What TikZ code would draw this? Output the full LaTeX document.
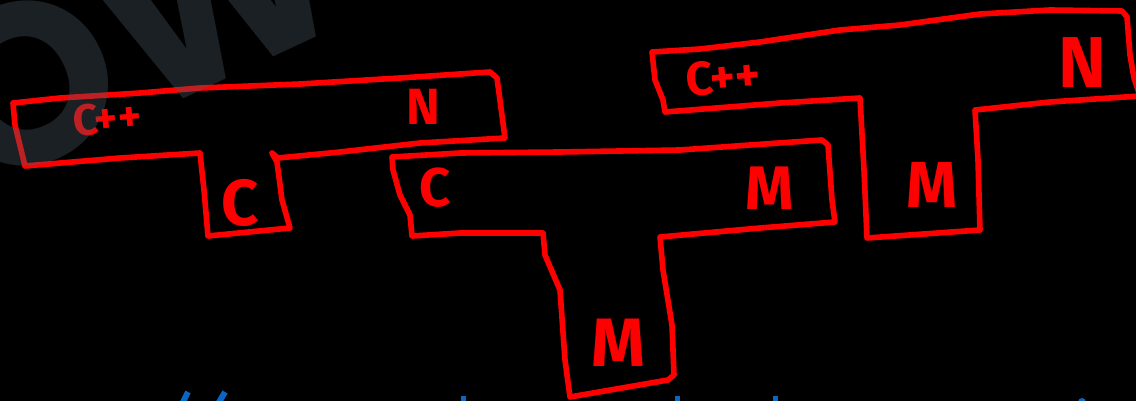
\documentclass[tikz,border=0pt]{standalone}
\usepackage{fontspec}
\newfontfamily\handfont{Fira Sans}
\newfontfamily\markfont{Poppins}
\definecolor{inkred}{RGB}{255,0,0}
\definecolor{markgray}{RGB}{75,89,100}
\definecolor{linkblue}{RGB}{10,102,194}
\begin{document}
\begin{tikzpicture}[x=0.02cm, y=-0.02cm,
  outline/.style={draw=inkred, line width=3.2pt, line join=round, line cap=round},
  hand/.style={text=inkred, inner sep=0pt, font=\handfont\bfseries\fontsize{#1}{#1}\selectfont},
  tick/.style={linkblue, line width=3.4pt}]
\useasboundingbox[fill=black] (0,0) rectangle (1136,401);
\draw[outline] (13,103) -- (60,98) -- (140,93) -- (200,88) -- (300,84) -- (400,78) -- (490,72) -- (497,78)
  -- (505,138) -- (420,143) -- (340,152) -- (278,158) -- (272,153) -- (277,162) -- (282,200) -- (290,228)
  -- (208,236) -- (204,190) -- (200,153) -- (120,158) -- (25,166) -- (15,125) -- cycle;
\draw[outline] (392,157) -- (460,153) -- (560,152) -- (680,150) -- (750,145) -- (822,140) -- (828,145)
  -- (832,200) -- (835,222) -- (760,228) -- (660,237) -- (663,270) -- (672,325) -- (674,375) -- (668,380)
  -- (570,397) -- (565,360) -- (560,290) -- (545,255) -- (543,233) -- (460,233) -- (412,236) -- (410,215)
  -- (400,195) -- (393,170) -- cycle;
\draw[outline] (652,52) -- (700,49) -- (760,42) -- (840,30) -- (900,25) -- (980,14) -- (1050,10) -- (1122,11)
  -- (1127,17) -- (1130,55) -- (1134,78) -- (1140,96) -- (1050,102) -- (975,110) -- (978,160) -- (980,230)
  -- (867,238) -- (864,170) -- (860,98) -- (780,103) -- (665,112) -- (663,100) -- (655,80) -- cycle;
\node[hand=25, rotate=5] (cppa) at (107,118) {C++};
\node[hand=29] (na) at (423,107) {N};
\node[hand=37] (ca) at (240,203) {C};
\node[hand=31] (cb) at (435,188) {C};
\node[hand=35] (mb) at (770,188) {M};
\node[hand=39] (mc) at (618,343) {M};
\node[hand=27, rotate=5] (cppc) at (723,77) {C++};
\node[hand=41] (nc) at (1082,63) {N};
\node[hand=37] (md) at (932,185) {M};
\node[text=markgray, opacity=0.36, anchor=base west, rotate=25, inner sep=0pt,
  font=\markfont\bfseries\fontsize{130}{130}\selectfont] (mark) at (-22,195) {OW};
\draw[tick] (188,392) -- (182,404);
\draw[tick] (225,392) -- (218,404);
\fill[linkblue] (461,396) rectangle (466,402);
\fill[linkblue] (675,396) rectangle (680,402);
\fill[linkblue] (773,396) rectangle (778,402);
\fill[linkblue] (1082,402) circle (4);
\end{tikzpicture}
\end{document}
